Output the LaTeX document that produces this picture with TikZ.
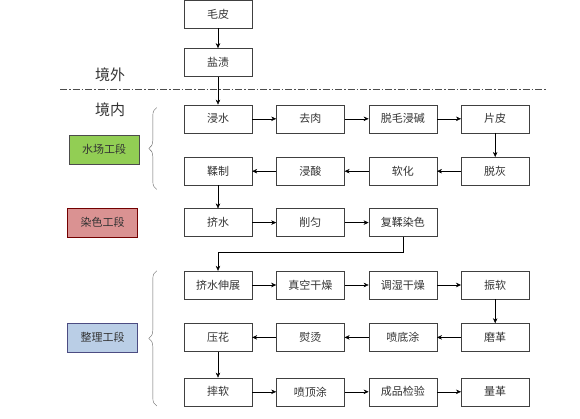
\documentclass[tikz,border=0pt]{standalone}
\usepackage{fontspec}
\setmainfont{Noto Sans CJK SC}
\usepackage{xcolor}
\usetikzlibrary{positioning,arrows.meta,decorations.pathreplacing}

\definecolor{wetgreen}{RGB}{146,206,84}
\definecolor{dyered}{RGB}{218,146,146}
\definecolor{finblue}{RGB}{186,206,230}

\begin{document}
\begin{tikzpicture}[font=\fontsize{11}{13}\selectfont, node distance=24pt, text=black!80,
  box/.style={draw=black!75, align=center, inner sep=2pt,
              minimum width=68pt, minimum height=28pt},
  stage/.style={box, minimum width=70pt, minimum height=29pt},
  arr/.style={-{Stealth[length=5pt,width=4.5pt]}, thin},
  brc/.style={draw=black!60, decorate, decoration={brace, amplitude=8pt}}]
\useasboundingbox (0,0) rectangle (580pt,-419pt);

% outside the country
\node[box] (hide) at (218pt,-14pt) {毛皮};
\node[box, below=20pt of hide] (salt) {盐渍};
\node[font=\fontsize{15}{17}\selectfont] (abroad) at (110pt,-75pt) {境外};
\node[font=\fontsize{15}{17}\selectfont] (home) at (110pt,-110pt) {境内};
\coordinate (bordl) at (60pt,-89pt);
\coordinate (bordr) at (547pt,-89pt);
\draw[black!70, dash pattern=on 7pt off 2pt on 1.5pt off 2pt] (bordl) -- (bordr);

% beamhouse
\node[box, below=28pt of salt] (soak) {浸水};
\node[box, right=of soak] (flesh) {去肉};
\node[box, right=of flesh] (unhair) {脱毛浸碱};
\node[box, right=of unhair] (split) {片皮};
\node[box, below=of split] (delime) {脱灰};
\node[box, left=of delime] (bate) {软化};
\node[box, left=of bate] (pickle) {浸酸};
\node[box, left=of pickle] (tan) {鞣制};

% dyeing
\node[box, below=23pt of tan] (wring) {挤水};
\node[box, right=of wring] (shave) {削匀};
\node[box, right=of shave] (dye) {复鞣染色};

% finishing
\node[box, below=34pt of wring] (stretch) {挤水伸展};
\node[box, right=of stretch] (vacdry) {真空干燥};
\node[box, right=of vacdry] (condition) {调湿干燥};
\node[box, right=of condition] (stake) {振软};
\node[box, below=of stake] (buff) {磨革};
\node[box, left=of buff] (basecoat) {喷底涂};
\node[box, left=of basecoat] (iron) {熨烫};
\node[box, left=of iron] (emboss) {压花};
\node[box, below=26pt of emboss] (mill) {摔软};
\node[box, right=of mill] (topcoat) {喷顶涂};
\node[box, right=of topcoat] (inspect) {成品检验};
\node[box, right=of inspect] (measure) {量革};

% stages
\node[stage, fill=wetgreen, draw=black!70] (wet) at (104pt,-149.5pt) {水场工段};
\node[stage, fill=dyered, draw=red!45!black, left=46pt of wring] (color) {染色工段};
\node[stage, fill=finblue, draw=blue!30!black!70, left=46pt of emboss] (finish) {整理工段};

\draw[brc] ([xshift=-27pt,yshift=-4pt]tan.south west) -- ([xshift=-27pt,yshift=-3pt]soak.north west);
\draw[brc] ([xshift=-27pt]mill.south west) -- ([xshift=-27pt]stretch.north west);

\draw[arr] (hide) -- (salt);
\draw[arr] (salt) -- (soak);
\draw[arr] (soak) -- (flesh);
\draw[arr] (flesh) -- (unhair);
\draw[arr] (unhair) -- (split);
\draw[arr] (split) -- (delime);
\draw[arr] (delime) -- (bate);
\draw[arr] (bate) -- (pickle);
\draw[arr] (pickle) -- (tan);
\draw[arr] (tan) -- (wring);
\draw[arr] (wring) -- (shave);
\draw[arr] (shave) -- (dye);
\draw[arr] (dye.south) -- ++(0,-15pt) -| (stretch.north);
\draw[arr] (stretch) -- (vacdry);
\draw[arr] (vacdry) -- (condition);
\draw[arr] (condition) -- (stake);
\draw[arr] (stake) -- (buff);
\draw[arr] (buff) -- (basecoat);
\draw[arr] (basecoat) -- (iron);
\draw[arr] (iron) -- (emboss);
\draw[arr] (emboss) -- (mill);
\draw[arr] (mill) -- (topcoat);
\draw[arr] (topcoat) -- (inspect);
\draw[arr] (inspect) -- (measure);
\end{tikzpicture}
\end{document}
